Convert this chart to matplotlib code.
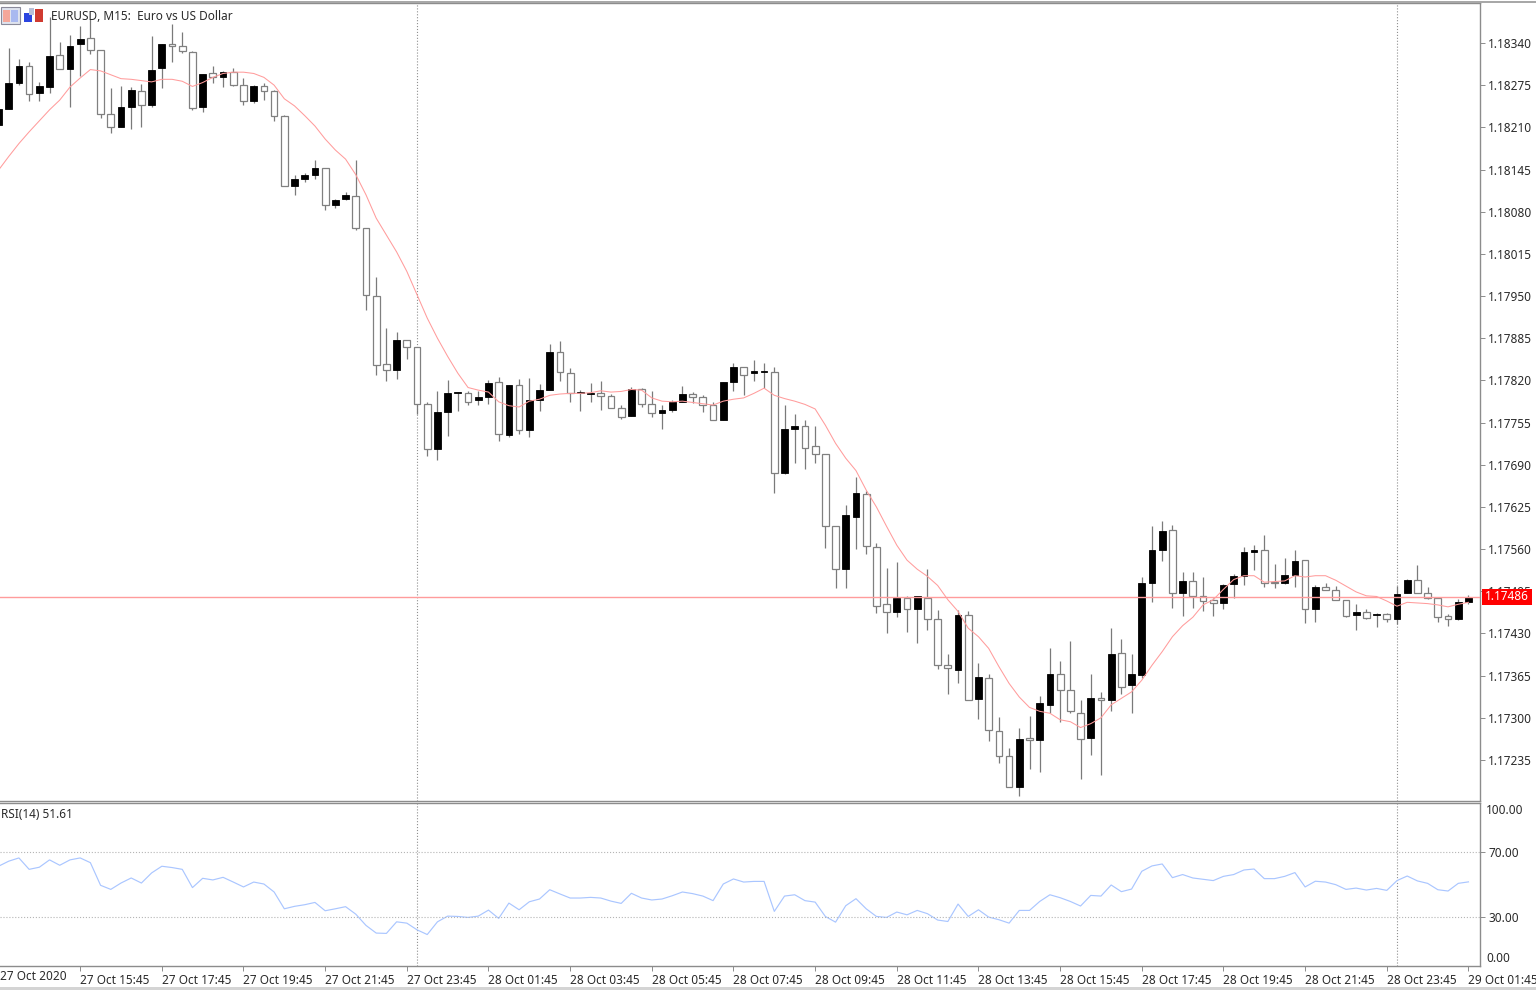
import matplotlib
matplotlib.use("Agg")
import matplotlib.pyplot as plt
import numpy as np
from matplotlib.patches import Rectangle

plt.rcParams["font.family"] = ["Noto Sans", "DejaVu Sans"]

# prices are stored as points above 1.17000
base_price = 1.17

opens = [1213,1239,1279,1304,1263,1272,1321,1300,1339,1347,1329,1230,1210,1241,1266,1244,1302,1338,1336,1326,
         1241,1293,1288,1296,1276,1251,1274,1266,1228,1120,1130,1137,1147,1090,1099,1104,1055,950,845,836,
         882,871,784,714,772,800,800,790,795,817,736,813,743,790,805,863,832,800,799,801,
         796,778,765,806,784,769,774,787,799,795,782,759,817,841,831,833,833,678,745,750,
         719,706,596,530,610,645,563,475,463,484,468,484,453,382,374,458,329,362,280,241,
         194,269,266,320,367,343,308,269,331,327,400,350,366,508,558,589,492,511,487,481,
         477,506,519,555,558,510,507,520,543,467,501,497,481,458,463,458,460,452,492,513,
         492,484,457,452,479]
highs = [1242,1332,1316,1311,1280,1380,1341,1352,1366,1377,1329,1270,1274,1272,1277,1350,1338,1369,1357,1327,
         1292,1305,1297,1301,1286,1275,1278,1268,1229,1137,1139,1160,1148,1099,1111,1160,1055,980,900,895,
         883,872,786,803,821,802,804,803,821,825,813,822,823,814,876,880,839,805,816,819,
         799,782,810,808,803,782,790,812,802,798,787,817,847,841,851,847,841,782,768,759,
         750,706,596,628,671,650,569,531,540,487,488,529,466,398,466,465,385,367,301,254,
         285,303,334,407,387,418,328,368,340,438,422,398,517,596,603,597,525,524,517,485,
         506,521,563,566,582,537,547,558,543,505,508,503,482,476,468,461,461,503,514,536,
         501,484,460,483,489]
lows = [1212,1239,1275,1250,1251,1263,1300,1242,1289,1323,1225,1201,1210,1207,1211,1241,1271,1310,1325,1237,
        1234,1278,1272,1274,1244,1248,1252,1220,1120,1105,1126,1131,1083,1085,1098,1051,928,829,819,822,
        853,768,703,697,735,773,782,782,783,727,732,737,732,773,805,819,787,773,787,774,
        778,761,765,779,764,745,772,787,785,772,759,759,804,797,819,808,646,676,692,684,
        692,561,500,500,560,553,461,431,455,432,416,436,375,337,354,328,298,265,231,194,
        180,221,217,307,293,307,205,243,212,311,336,307,361,478,541,470,457,469,465,457,
        468,485,505,528,502,500,506,501,446,447,497,481,455,436,453,440,447,444,492,492,
        483,447,442,451,476]
closes = [1239,1278,1305,1261,1274,1320,1300,1335,1346,1329,1230,1210,1241,1268,1244,1298,1338,1335,1328,1240,
          1292,1288,1296,1276,1251,1274,1266,1228,1120,1130,1137,1147,1090,1098,1105,1055,951,843,836,882,
          871,783,714,771,801,801,786,795,816,737,813,743,790,805,864,833,800,801,801,796,
          778,764,806,784,769,774,787,799,795,782,759,817,841,829,835,835,678,745,750,716,
          706,595,530,612,647,565,472,463,484,468,487,453,381,377,458,328,363,281,241,194,
          267,266,323,367,343,310,267,331,327,399,348,367,508,558,588,492,511,488,480,477,
          505,519,555,558,508,507,520,542,467,501,497,481,457,463,454,460,452,491,513,492,
          484,456,453,478,486]
ma_line = [1144,1165,1185,1203,1220,1237,1252,1272,1286,1299,1297,1291,1285,1284,1282,1280,1284,1284,1281,1273,
           1279,1287,1293,1295,1295,1293,1287,1275,1254,1243,1228,1212,1192,1175,1161,1137,1106,1070,1044,1018,
           988,952,916,885,857,831,809,805,802,787,781,779,788,791,797,799,800,800,801,804,
           802,803,806,805,793,788,787,788,786,784,782,788,791,793,800,808,797,792,788,783,
           776,751,723,700,681,651,625,595,566,543,529,518,504,482,464,438,425,407,379,353,
           332,316,310,307,297,294,285,291,300,320,330,340,358,381,402,425,442,455,474,482,
           498,513,519,519,509,510,511,519,517,519,519,512,503,494,488,487,480,472,478,477,
           476,474,471,475,478]
rsi_values = [61.2,64.3,66.3,59.3,60.6,65.1,61.8,65.1,66.3,63.4,49.5,47.0,50.9,54.0,50.9,57.1,61.2,60.4,59.3,48.1,
              53.8,52.8,54.4,51.5,48.5,51.5,50.3,45.4,35.1,36.6,37.6,39.0,33.9,35.1,36.4,31.8,24.9,20.2,20.0,27.1,
              26.3,22.2,19.3,27.1,30.6,30.4,29.8,30.6,34.3,29.2,38.6,34.5,39.4,41.1,46.8,44.2,41.7,41.7,42.1,41.7,
              39.8,38.4,44.6,41.7,40.5,41.1,43.1,45.4,44.4,42.9,40.1,50.3,53.4,51.5,51.9,51.9,33.5,42.9,43.7,40.1,
              39.2,30.4,26.9,37.0,41.3,35.1,30.4,29.8,33.1,31.4,34.1,32.1,28.2,27.3,38.0,30.4,34.5,30.0,28.4,26.3,
              34.1,34.1,39.6,43.7,41.9,39.6,36.8,43.3,42.9,49.7,45.6,47.2,58.1,61.4,62.6,54.2,56.1,54.0,53.2,52.4,
              55.0,56.1,58.9,59.5,53.6,53.6,55.0,57.3,48.5,52.0,51.5,49.9,47.0,47.8,46.6,47.6,46.4,52.4,55.2,52.2,
              50.7,46.8,46.0,50.7,51.61]

price_ticks = [1.17235,1.17300,1.17365,1.17430,1.17495,1.17560,1.17625,1.17690,1.17755,1.17820,1.17885,
               1.17950,1.18015,1.18080,1.18145,1.18210,1.18275,1.18340]
rsi_ticks = [30, 70]
time_labels = ["27 Oct 15:45","27 Oct 17:45","27 Oct 19:45","27 Oct 21:45","27 Oct 23:45","28 Oct 01:45",
               "28 Oct 03:45","28 Oct 05:45","28 Oct 07:45","28 Oct 09:45","28 Oct 11:45","28 Oct 13:45",
               "28 Oct 15:45","28 Oct 17:45","28 Oct 19:45","28 Oct 21:45","28 Oct 23:45","29 Oct 01:45"]
day_separators = [41, 137]
last_price = 1.17486

W, H = 1536, 990
px = 10.208
text_col = "#2a2a2a"
frame_col = "#8c8c8c"

def to_price(valores):
    return base_price + np.array(valores) / 1e5

o, h, l, c = to_price(opens), to_price(highs), to_price(lows), to_price(closes)
x = np.arange(len(opens))
black = c >= o

fig = plt.figure(figsize=(W / 100, H / 100), dpi=100, facecolor="white")
ax = fig.add_axes([0, 1 - 801 / H, 1480 / W, 798 / H])
ax2 = fig.add_axes([0, 1 - 966 / H, 1480 / W, 163 / H], sharex=ax)

# candles
ax.vlines(x, l, h, color="#7a7a7a", linewidth=0.9, zorder=2)
ax.bar(x[~black], np.abs(c - o)[~black], bottom=np.minimum(o, c)[~black], width=0.66,
       facecolor="white", edgecolor="#808080", linewidth=0.9, zorder=3)
ax.bar(x[black], np.maximum(np.abs(c - o)[black], 2e-5), bottom=np.minimum(o, c)[black], width=0.66,
       facecolor="black", edgecolor="black", linewidth=0.6, zorder=3)
ax.plot(x, to_price(ma_line), color="#ff9c9c", linewidth=0.75, zorder=4)
ax.axhline(last_price, color="#ff9c9c", linewidth=1.0, zorder=4)

ax.set_xlim(1.5 / px, 1481.5 / px)
ax.set_ylim(base_price + 171.8 / 1e5, base_price + 1401.6 / 1e5)

ax2.plot(x, rsi_values, color="#aac6ff", linewidth=0.85)
ax2.set_ylim(0, 100)
for nivel in rsi_ticks:
    ax2.axhline(nivel, color="#b5b5b5", linewidth=0.8, linestyle=":")

for a in [ax, ax2]:
    for sep in day_separators:
        a.axvline(sep, color="#8f8f8f", linewidth=0.8, linestyle=":", zorder=1)
    a.yaxis.tick_right()
    a.spines["left"].set_visible(False)
    for s in ["top", "bottom", "right"]:
        a.spines[s].set_color(frame_col)
        a.spines[s].set_linewidth(1.0)
    a.tick_params(axis="y", length=3.5, width=0.7, color=frame_col, labelsize=8.5,
                  labelcolor=text_col, pad=2.5)

ax.set_yticks(price_ticks)
ax.set_yticklabels([f"{p:.5f}" for p in price_ticks])
ax.tick_params(axis="x", bottom=False, labelbottom=False)

ax2.set_yticks(rsi_ticks)
ax2.set_yticklabels([f"{v:.2f}" for v in rsi_ticks])
# 100 and 0 sit just inside the pane in the terminal
ax2.text(1486 / 1480, 95.7, "100.00", transform=ax2.get_yaxis_transform(), fontsize=8.5, color=text_col, va="center", clip_on=False)
ax2.text(1486 / 1480, 4.3, "0.00", transform=ax2.get_yaxis_transform(), fontsize=8.5, color=text_col, va="center", clip_on=False)

ax2.set_xticks(np.arange(8, 145, 8))
ax2.set_xticklabels(time_labels, ha="left", fontsize=8.5, color=text_col)
ax2.tick_params(axis="x", length=3.5, width=0.7, color=frame_col, pad=2.5)

fig.text(0 / W, 1 - 976.5 / H, "27 Oct 2020", fontsize=8.5, color=text_col, va="center")
fig.text(51 / W, 1 - 16.5 / H, "EURUSD, M15:  Euro vs US Dollar", fontsize=8.5, color=text_col, va="center", zorder=6)
fig.text(1 / W, 1 - 814 / H, "RSI(14) 51.61", fontsize=8.5, color=text_col, va="center")

# red price tag
fig.patches.append(Rectangle((1482 / W, 1 - 605 / H), 50 / W, 16 / H, transform=fig.transFigure,
                             facecolor="#ff0000", edgecolor="none", zorder=5))
fig.text(1507 / W, 1 - 597 / H, f"{last_price:.5f}", fontsize=8.5, color="white", fontweight="bold",
         ha="center", va="center", zorder=6)

# window edges
fig.patches.append(Rectangle((0, 1 - 3 / H), 1, 2 / H, transform=fig.transFigure, facecolor="#a8a8a8", edgecolor="none"))
fig.patches.append(Rectangle((0, 0), 1, 3 / H, transform=fig.transFigure, facecolor="#d4d4d4", edgecolor="none"))

# toolbar icons
iconos = [(1, 7, 19, 17, "#dfe3ee", "#8a8a9a"), (3, 10, 7, 12, "#f5a79a", "none"), (11, 10, 7, 12, "#a9b9f0", "none"),
          (24, 13, 8, 9, "#2b45e0", "none"), (29, 8, 5, 7, "#b8c0d8", "none"), (35, 9, 8, 13, "#d03a30", "none")]
for ix, iy, iw, ih, fc, ec in iconos:
    fig.patches.append(Rectangle((ix / W, 1 - (iy + ih) / H), iw / W, ih / H, transform=fig.transFigure,
                                 facecolor=fc, edgecolor=ec, linewidth=0.8, zorder=6))

fig.savefig("out.png", dpi=100)
